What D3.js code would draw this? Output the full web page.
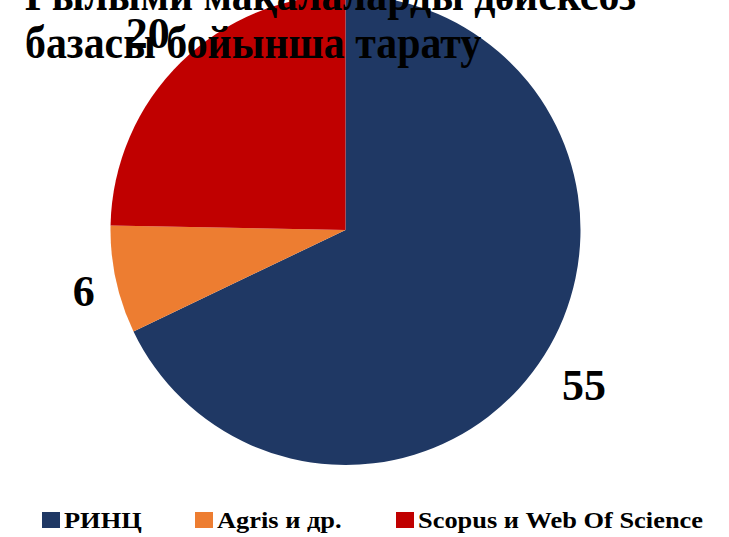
<!DOCTYPE html>
<html>
<head>
<meta charset="utf-8">
<script src="https://cdn.jsdelivr.net/npm/d3@7"></script>
<style>
  html, body { margin: 0; padding: 0; background: #fff; overflow: hidden; }
  svg { display: block; }
  text { font-family: "Liberation Serif", "Times New Roman", serif; font-weight: bold; }
</style>
</head>
<body>
<svg id="chart" width="729" height="537"></svg>
<script>
// data
var categories = ["РИНЦ", "Agris и др.", "Scopus и Web Of Science"];
var values = [55, 6, 20];
var colors = ["#1F3864", "#ED7D31", "#C00000"];
var titleLines = ["Ғылыми мақалаларды дәйексөз", "базасы бойынша тарату"];

var svg = d3.select("#chart");
var cx = 345.5, cy = 230, r = 235;

var pie = d3.pie().sort(null).value(function(d){ return d; });
var arcs = pie(values);

var arc = d3.arc().innerRadius(0).outerRadius(r);

var g = svg.append("g").attr("transform", "translate(" + cx + "," + cy + ")");

// slices
g.selectAll("path")
  .data(arcs)
  .enter()
  .append("path")
  .attr("d", arc)
  .attr("fill", function(d, i){ return colors[i]; });

// title sits on top of the pie (cut off at top like the original)
var title = svg.append("text")
  .attr("transform", "translate(25,0) scale(0.91,1)")
  .attr("font-size", 46)
  .attr("fill", "#000");
title.selectAll("tspan")
  .data(titleLines)
  .enter()
  .append("tspan")
  .attr("x", 0)
  .attr("y", function(d, i){ return 10 + i * 48; })
  .text(function(d){ return d; });

// value labels, outside end: box edge kept a small gap from the rim
var lbl = g.selectAll("text.val")
  .data(arcs)
  .enter()
  .append("text")
  .attr("class", "val")
  .attr("text-anchor", "middle")
  .attr("dominant-baseline", "central")
  .attr("font-size", 44)
  .attr("fill", "#000")
  .text(function(d){ return d.data; });

lbl.attr("transform", function(d){
  var bb = this.getBBox();
  var a = (d.startAngle + d.endAngle) / 2;
  var ux = Math.sin(a), uy = -Math.cos(a);
  var ext = bb.width / 2 * Math.abs(ux) + bb.height / 2 * Math.abs(uy) * 0.8;
  var dist = r + 18 + ext;
  return "translate(" + (dist * ux) + "," + (dist * uy + 5) + ")";
});

// legend
var legendX = [42, 195, 396];
var leg = svg.selectAll("g.leg")
  .data(categories)
  .enter()
  .append("g")
  .attr("class", "leg")
  .attr("transform", function(d, i){ return "translate(" + legendX[i] + ",512)"; });

leg.append("rect")
  .attr("width", 18)
  .attr("height", 16)
  .attr("fill", function(d, i){ return colors[i]; });

leg.append("text")
  .attr("transform", "translate(22,16) scale(1.1,1)")
  .attr("font-size", 24)
  .attr("fill", "#000")
  .text(function(d){ return d; });
</script>
</body>
</html>
